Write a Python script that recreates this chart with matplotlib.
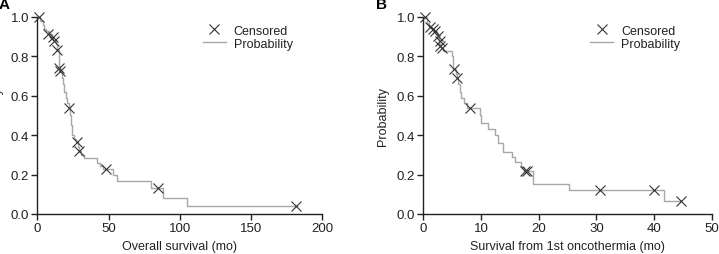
import matplotlib
matplotlib.use("Agg")
import matplotlib.pyplot as plt

plt.rcParams['font.family'] = ['Liberation Sans', 'DejaVu Sans']

# Panel A: overall survival (months)
a_time = [0, 2, 4, 5, 6, 8, 10, 11, 13, 14, 15, 15.5, 16, 17, 18, 19, 20, 21, 22, 23,
          23.5, 24, 25.5, 27, 28.5, 29.5, 31, 33, 42, 44, 46, 53, 56, 80, 88, 105, 182]
a_surv = [1.0, 0.98, 0.96, 0.94, 0.93, 0.91, 0.895, 0.88, 0.86, 0.83, 0.79, 0.75, 0.72,
          0.69, 0.66, 0.62, 0.59, 0.565, 0.54, 0.50, 0.45, 0.40, 0.38, 0.366, 0.34, 0.318,
          0.30, 0.282, 0.26, 0.245, 0.228, 0.20, 0.167, 0.13, 0.083, 0.042, 0.042]
a_cens_t = [1.4, 7.7, 10.8, 11.9, 14.0, 15.2, 15.9, 22.5, 27.6, 29.3, 48.2, 84.7, 181.5]
a_cens_s = [1.0, 0.912, 0.895, 0.878, 0.833, 0.74, 0.723, 0.537, 0.366, 0.318, 0.228, 0.13, 0.042]

# Panel B: survival from 1st oncothermia (months)
b_time = [0, 0.6, 1.0, 1.5, 1.9, 2.3, 2.6, 2.8, 3.0, 3.5, 4.9, 5.1, 5.2, 5.6, 5.8, 6.1,
          6.3, 6.6, 7.0, 7.6, 9.8, 10.0, 11.3, 12.4, 13.0, 13.8, 15.3, 15.9, 17.0, 17.5,
          19.0, 25.3, 41.7, 44.7]
b_surv = [1.0, 0.97, 0.95, 0.94, 0.93, 0.91, 0.89, 0.86, 0.84, 0.825, 0.80, 0.77, 0.735,
          0.71, 0.69, 0.66, 0.62, 0.59, 0.565, 0.536, 0.50, 0.46, 0.43, 0.40, 0.36, 0.312,
          0.287, 0.262, 0.238, 0.216, 0.152, 0.122, 0.064, 0.064]
b_cens_t = [0.3, 1.16, 1.6, 2.0, 2.6, 2.9, 2.9, 3.2, 5.3, 5.9, 8.1, 17.6, 18.0, 30.6, 40.0, 44.7]
b_cens_s = [1.0, 0.95, 0.94, 0.93, 0.904, 0.878, 0.853, 0.84, 0.735, 0.69, 0.536, 0.216,
            0.216, 0.122, 0.122, 0.064]

y_ticks = [0.0, 0.2, 0.4, 0.6, 0.8, 1.0]
a_xticks = [0, 50, 100, 150, 200]
b_xticks = [0, 10, 20, 30, 40, 50]

fig = plt.figure(figsize=(7.19, 2.55), dpi=100)
W, H = 719, 255
FS = 9

def make_ax(x0, x1, y0, y1):
    return fig.add_axes([x0 / W, 1 - y1 / H, (x1 - x0) / W, (y1 - y0) / H])

axA = make_ax(37.3, 322.3, 17.7, 215)
axB = make_ax(423.3, 711.7, 17.7, 215)

line_col = '#a8a8a8'
mark_col = '#333333'
spine_col = '#222222'
text_col = '#222222'

def style(ax, xt, xlabel):
    for s in ['top', 'right']:
        ax.spines[s].set_visible(False)
    for s in ['left', 'bottom']:
        ax.spines[s].set_color(spine_col)
        ax.spines[s].set_linewidth(1.0)
    ax.set_xlim(xt[0], xt[-1])
    ax.set_ylim(0, 1.0)
    ax.set_xticks(xt)
    ax.set_yticks(y_ticks)
    ax.set_yticklabels([f"{v:.1f}" for v in y_ticks])
    ax.tick_params(direction='out', length=4, width=1.0, color=spine_col,
                   labelsize=FS + 0.5, labelcolor=text_col, pad=2)
    ax.set_xlabel(xlabel, fontsize=FS, color=text_col, labelpad=4)
    ax.set_ylabel('Probability', fontsize=FS, color=text_col)
    ax.yaxis.set_label_coords(-34.3 / ((ax.get_position().width) * W), 0.5)
    ax.patch.set_visible(False)

def draw(ax, t, s, ct, cs):
    ax.plot(ct, cs, linestyle='none', marker='x', markersize=7, markeredgewidth=0.8,
            color=mark_col, label='Censored', clip_on=False, zorder=3)
    ax.step(t, s, where='post', color=line_col, linewidth=1.0, label='Probability', zorder=2)

draw(axA, a_time, a_surv, a_cens_t, a_cens_s)
draw(axB, b_time, b_surv, b_cens_t, b_cens_s)
style(axA, a_xticks, 'Overall survival (mo)')
style(axB, b_xticks, 'Survival from 1st oncothermia (mo)')

for ax, lx in [(axA, 0.580), (axB, 0.578)]:
    ax.legend(loc='upper left', bbox_to_anchor=(lx, 0.96), frameon=False,
              fontsize=FS, borderaxespad=0, borderpad=0, handlelength=1.85,
              handletextpad=0.65, labelspacing=0.1, labelcolor=text_col)

fig.text(-1 / W, 1 - 5 / H, 'A', fontsize=11, fontweight='bold', va='center', ha='left')
fig.text(376 / W, 1 - 5 / H, 'B', fontsize=11, fontweight='bold', va='center', ha='left')

fig.savefig('out.png', dpi=100)
